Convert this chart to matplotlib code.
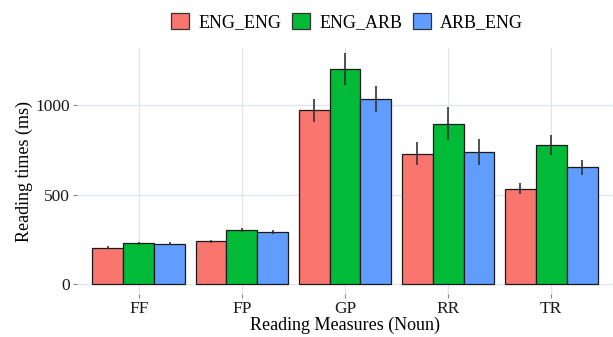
import numpy as np
import matplotlib
matplotlib.use('Agg')
import matplotlib.pyplot as plt
from matplotlib.patches import Patch

plt.rcParams['font.family'] = ['Liberation Serif', 'DejaVu Serif']

measures = ['FF', 'FP', 'GP', 'RR', 'TR']
groups = ['ENG_ENG', 'ENG_ARB', 'ARB_ENG']
colors = ['#F8766D', '#00BA38', '#619CFF']

eng_eng = [205, 240, 970, 729, 534]
eng_arb = [229, 302, 1199, 896, 777]
arb_eng = [227, 292, 1033, 738, 653]

eng_eng_err = [8, 9, 65, 64, 31]
eng_arb_err = [7, 10, 90, 90, 54]
arb_eng_err = [7, 10, 73, 72, 42]


def main():
	means = [eng_eng, eng_arb, arb_eng]
	errs = [eng_eng_err, eng_arb_err, arb_eng_err]

	fig = plt.figure(figsize=(6.13, 3.37), dpi=100)
	ax = fig.add_axes([77 / 613, 43 / 337, 536 / 613, 246 / 337])

	x = np.arange(1, len(measures) + 1)
	w = 0.3
	for i, (g, c) in enumerate(zip(groups, colors)):
		pos = x + (i - 1) * w
		ax.bar(pos, means[i], width=w, color=c, edgecolor='#1a1a1a', linewidth=0.9, zorder=2)
		ax.errorbar(pos, means[i], yerr=errs[i], fmt='none', ecolor='#333333',
					elinewidth=1.2, capsize=0, zorder=3)

	ax.set_xlim(0.4, 5.6)
	ax.set_ylim(-53, 1317)
	ax.set_xticks(x)
	ax.set_xticklabels(measures)
	ax.set_yticks([0, 500, 1000])
	ax.set_yticklabels(['0', '500', '1000'])

	for s in ax.spines.values():
		s.set_visible(False)
	ax.grid(True, color='#dfe5ea', linewidth=0.9, zorder=0)
	ax.set_axisbelow(True)
	ax.tick_params(axis='both', length=3, color='#888888', labelsize=12.5,
				   labelcolor='#1a1a1a', pad=2)

	ax.set_xlabel('Reading Measures (Noun)', fontsize=13, labelpad=0)
	ax.set_ylabel('Reading times (ms)', fontsize=13, labelpad=2)

	handles = [Patch(facecolor=c, edgecolor='#333333', linewidth=0.9) for c in colors]
	fig.legend(handles, groups, loc='center', bbox_to_anchor=(347 / 613, 1 - 22 / 337),
			   ncol=3, frameon=False, fontsize=13, handlelength=1.0, handleheight=1.0,
			   handletextpad=0.5, columnspacing=0.6)

	fig.savefig('out.png', dpi=100)


if __name__ == '__main__':
	main()
